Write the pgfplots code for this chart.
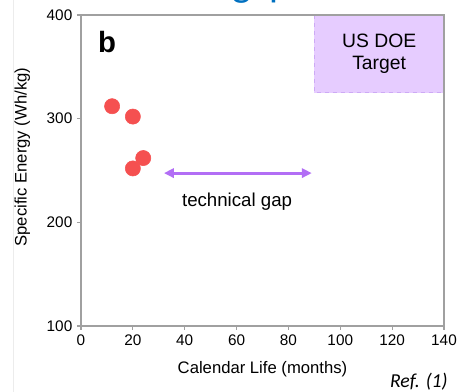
\documentclass[border=0pt]{standalone}
\usepackage{pgfplots}
\pgfplotsset{compat=1.18}
\usepackage{fontspec}
\setmainfont{Liberation Sans}
\newfontfamily\calibri{Carlito}
\usetikzlibrary{arrows.meta,calc}

\definecolor{ptred}{RGB}{245,80,80}
\definecolor{gaparrow}{RGB}{178,110,245}
\definecolor{doefill}{RGB}{230,204,255}
\definecolor{doeedge}{RGB}{205,170,245}
\definecolor{axisgray}{RGB}{160,160,160}
\definecolor{headblue}{RGB}{0,112,192}

\begin{document}
\begin{tikzpicture}
\begin{axis}[
  scale only axis,
  width=272.25pt, height=233.25pt,
  xmin=0, xmax=140, ymin=100, ymax=400,
  xtick={0,20,...,140}, ytick={100,200,300,400},
  tick pos=left,
  tick align=outside,
  major tick length=3pt,
  tick style={draw=axisgray, line width=0.8pt},
  axis line style={draw=axisgray, line width=1.1pt},
  axis on top,
  clip=false,
  ticklabel style={font=\fontsize{11.5}{13}\selectfont},
  /pgf/number format/assume math mode=true,
  xlabel={Calendar Life (months)},
  ylabel={Specific Energy (Wh/kg)},
  label style={font=\fontsize{12.5}{14}\selectfont},
  xlabel style={at={(axis description cs:0.5,-0.138)}, anchor=center},
  ylabel style={at={(axis description cs:-0.162,0.543)}, anchor=center},
]
% US DOE target region
\addplot[fill=doefill, draw=none] coordinates {(90,325) (140,325) (140,400) (90,400)} -- cycle;
\addplot[draw=doeedge, dashed, line width=0.8pt] coordinates {(90,400) (90,325) (140,325)};
\node[align=center, font=\fontsize{14.5}{17}\selectfont] at (axis cs:115,362.5) {US DOE\\Target};

% measured cells
\addplot[only marks, mark=*, mark size=5.7pt, color=ptred, mark options={draw=ptred, fill=ptred}]
  coordinates {(12,312) (20,302) (24,262) (20,252)};

% technical gap
\addplot[gaparrow, line width=2.2pt, {Triangle[length=7.5pt,width=7pt]}-{Triangle[length=7.5pt,width=7pt]}]
  coordinates {(32,247.5) (89,247.5)};
\node[font=\fontsize{14}{16}\selectfont] at (axis cs:60.2,220) {technical gap};

\node[anchor=base west, inner sep=0pt, font=\fontsize{22}{24}\selectfont\bfseries] at (axis cs:6.5,363.5) {b};
\end{axis}

% heading above the panel (runs past the top edge) and source note
\node[anchor=base west, inner sep=0pt, text=headblue, font=\calibri\fontsize{30}{32}\selectfont]
  at ($(current axis.north west)+(113.25pt,13.5pt)$) {gap};
\node[anchor=base east, inner sep=0pt, font=\calibri\itshape\fontsize{14.8}{16}\selectfont]
  at ($(current axis.south east)+(3pt,-46.5pt)$) {Ref. (1)};
\draw[gray!15, line width=0.6pt] ($(current axis.south west)+(-51pt,-49.5pt)$) -- ++(0,294pt);

\pgfresetboundingbox
\path[use as bounding box] ($(current axis.south west)+(-60.75pt,-49.5pt)$) rectangle ++(342.75pt,294pt);
\end{tikzpicture}
\end{document}
